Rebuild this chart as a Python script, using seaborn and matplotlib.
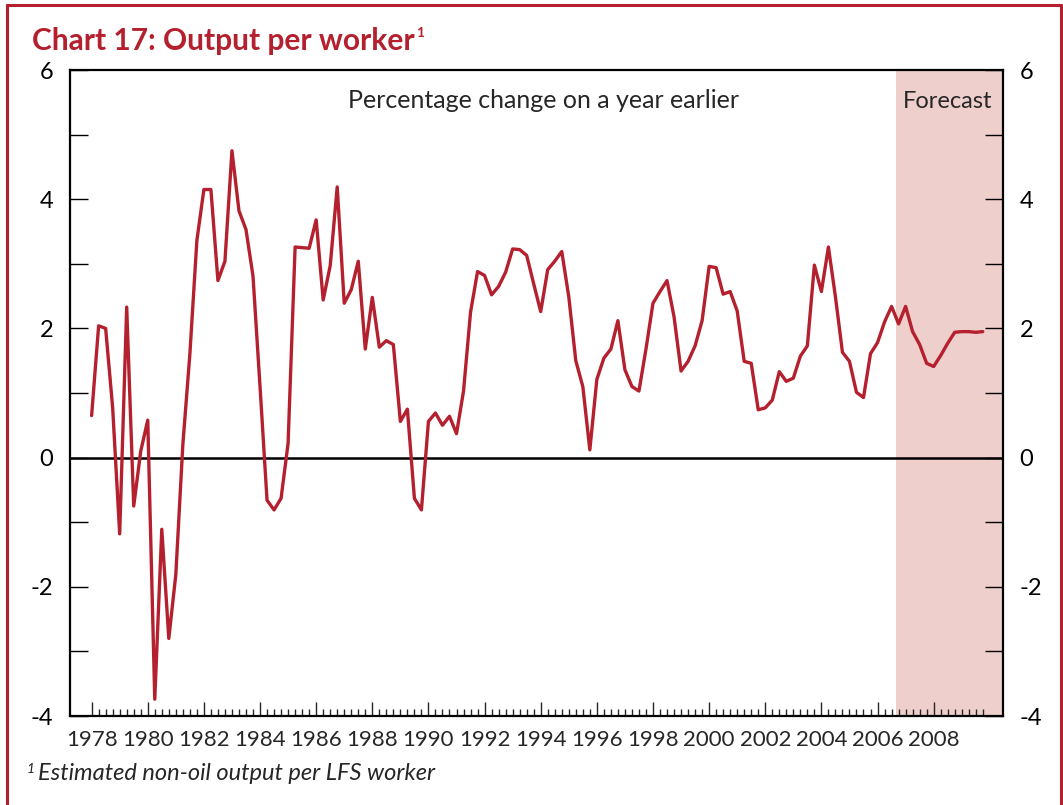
import numpy as np
import pandas as pd
import matplotlib
matplotlib.use("Agg")
import matplotlib.pyplot as plt
from matplotlib.ticker import MultipleLocator, FixedLocator
from matplotlib.lines import Line2D
import seaborn as sns

# quarterly data, 1978 Q1 onwards (percentage change on a year earlier)
start_year = 1978
values = [
    0.65, 2.04, 2.00, 0.77,     # 1978
    -1.18, 2.33, -0.75, 0.10,   # 1979
    0.58, -3.74, -1.11, -2.80,  # 1980
    -1.81, 0.20, 1.60, 3.36,    # 1981
    4.15, 4.15, 2.74, 3.04,     # 1982
    4.75, 3.82, 3.53, 2.81,     # 1983
    1.10, -0.66, -0.81, -0.63,  # 1984
    0.22, 3.26, 3.25, 3.24,     # 1985
    3.68, 2.44, 2.97, 4.19,     # 1986
    2.39, 2.60, 3.04, 1.68,     # 1987
    2.48, 1.71, 1.81, 1.75,     # 1988
    0.56, 0.75, -0.63, -0.81,   # 1989
    0.56, 0.69, 0.50, 0.64,     # 1990
    0.37, 1.03, 2.25, 2.88,     # 1991
    2.82, 2.52, 2.65, 2.87,     # 1992
    3.23, 3.22, 3.13, 2.69,     # 1993
    2.26, 2.91, 3.04, 3.19,     # 1994
    2.49, 1.50, 1.10, 0.12,     # 1995
    1.21, 1.54, 1.68, 2.12,     # 1996
    1.36, 1.10, 1.03, 1.68,     # 1997
    2.39, 2.57, 2.74, 2.18,     # 1998
    1.34, 1.49, 1.73, 2.12,     # 1999
    2.96, 2.94, 2.53, 2.57,     # 2000
    2.27, 1.49, 1.46, 0.74,     # 2001
    0.77, 0.89, 1.33, 1.18,     # 2002
    1.23, 1.57, 1.73, 2.98,     # 2003
    2.57, 3.26, 2.49, 1.63,     # 2004
    1.49, 1.01, 0.93, 1.61,     # 2005
    1.78, 2.10, 2.34, 2.07,     # 2006
    2.34, 1.95, 1.75, 1.46,     # 2007
    1.41, 1.58, 1.77, 1.94,     # 2008
    1.95, 1.95, 1.94, 1.95,     # 2009
]
year_labels = [1978, 1980, 1982, 1984, 1986, 1988, 1990, 1992, 1994, 1996,
               1998, 2000, 2002, 2004, 2006, 2008]
forecast_start = 2006.66
x_min, x_max = 1977.23, 2010.47

RED = "#B5202E"
SHADE = "#EFCFCB"

df = pd.DataFrame({"t": start_year + np.arange(len(values)) / 4, "v": values})

sns.set_style("ticks")
plt.rcParams["font.family"] = ["Lato", "DejaVu Sans"]
plt.rcParams["axes.unicode_minus"] = False

W, H = 1063, 805
fig = plt.figure(figsize=(W / 100, H / 100), dpi=100)
ax = fig.add_axes([70 / W, 1 - 716 / H, 933 / W, 646 / H])

ax.axvspan(forecast_start, x_max, color=SHADE, lw=0, zorder=0)
ax.axhline(0, color="black", lw=1.8, zorder=1)
sns.lineplot(data=df, x="t", y="v", ax=ax, color=RED, lw=2.4, zorder=3)

ax.set_xlim(x_min, x_max)
ax.set_ylim(-4, 6)
ax.set_xlabel("")
ax.set_ylabel("")

ax.yaxis.set_major_locator(MultipleLocator(2))
ax.yaxis.set_minor_locator(MultipleLocator(1))
ax.xaxis.set_major_locator(FixedLocator(year_labels))
ax.xaxis.set_minor_locator(FixedLocator(df["t"].tolist()))
ax.set_xticklabels([str(y) for y in year_labels])

ax.tick_params(axis="y", which="both", direction="in", length=13, width=1,
               left=True, right=True, labelleft=True, labelright=True,
               labelsize=17, pad=12, colors="black")
ax.tick_params(axis="x", which="major", direction="in", length=10, width=1,
               labelsize=16, pad=10)
ax.tick_params(axis="x", which="minor", direction="in", length=5, width=1)

for s in ax.spines.values():
    s.set_visible(True)
    s.set_linewidth(1.6)
    s.set_color("black")

ax.text(0.507, 0.941, "Percentage change on a year earlier", transform=ax.transAxes,
        ha="center", va="baseline", fontsize=18)
ax.text(0.941, 0.941, "Forecast", transform=ax.transAxes,
        ha="center", va="baseline", fontsize=17)

# title, footnote
title = fig.text(32 / W, 1 - 50 / H, "Chart 17: Output per worker", color=RED,
                 fontsize=21.5, fontweight="bold", ha="left", va="baseline")
fig.canvas.draw()
bb = title.get_window_extent()
fig.text(bb.x1 / W + 1 / W, 1 - 37 / H, "1", color=RED, fontsize=10, fontweight="bold",
         ha="left", va="baseline")
fig.text(27 / W, 1 - 773 / H, "1", fontsize=10, style="italic",
         ha="left", va="baseline")
fig.text(38 / W, 1 - 780 / H, "Estimated non-oil output per LFS worker",
         fontsize=17, style="italic", ha="left", va="baseline")

# red frame (left, top, right)
for xs, ys in [([7 / W, 7 / W], [0, 1 - 5 / H]),
               ([7 / W, 1 - 2 / W], [1 - 5 / H, 1 - 5 / H]),
               ([1 - 2 / W, 1 - 2 / W], [0, 1 - 5 / H])]:
    fig.add_artist(Line2D(xs, ys, color=RED, lw=2.2, transform=fig.transFigure))

fig.savefig("out.png", dpi=100)
